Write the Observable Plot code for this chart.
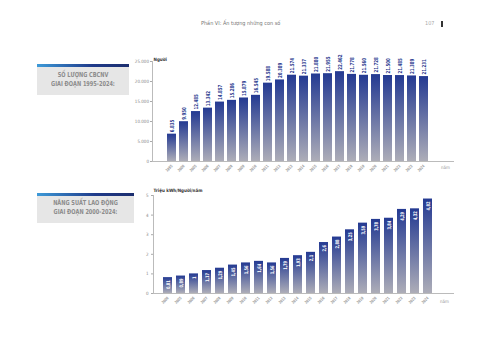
<!DOCTYPE html>
<html><head><meta charset="utf-8">
<script src="https://cdn.jsdelivr.net/npm/d3@7"></script>
<script src="https://cdn.jsdelivr.net/npm/@observablehq/plot@0.6"></script>
<style>
body{margin:0;background:#fff;}
#page{position:relative;width:480px;height:339px;overflow:hidden;background:#fff;font-family:"Liberation Sans Narrow","DejaVu Sans Condensed","Roboto",sans-serif;}
.hdr{position:absolute;font-size:5.5px;color:#777;white-space:nowrap;}
.box{position:absolute;background:#e6e6e6;color:#8c8c8c;font-weight:bold;font-size:6.8px;text-align:center;line-height:8.5px;}
.box .bar{position:absolute;left:0;top:0;right:0;height:3px;background:linear-gradient(to right,#3d9ad8,#1f3a8a 60%,#1c2e6e);}
.box .t{transform:scaleX(0.82);transform-origin:50% 0;white-space:nowrap;}
.chart{position:absolute;}
</style></head><body><div id="page">
<div class="hdr" style="left:201px;top:20px;">Phần VI: Ấn tượng những con số</div>
<div class="hdr" style="left:425px;top:20px;color:#aaa;">107</div>
<div style="position:absolute;left:441px;top:21px;width:2px;height:6px;background:#333;"></div>
<div class="box" style="left:37px;top:64px;width:92px;height:31px;"><div class="bar"></div><div class="t" style="padding-top:7px;">SỐ LƯỢNG CBCNV<br>GIAI ĐOẠN 1995-2024:</div></div>
<div class="box" style="left:37px;top:193px;width:97px;height:30px;"><div class="bar"></div><div class="t" style="padding-top:6px;">NĂNG SUẤT LAO ĐỘNG<br>GIAI ĐOẠN 2000-2024:</div></div>
<div class="chart" id="c1" style="left:110px;top:40px;"></div>
<div class="chart" id="c2" style="left:110px;top:175px;"></div>
</div>
<script>
const years1 = ["1995","2000","2005","2006","2007","2008","2009","2010","2011","2012","2013","2014","2015","2016","2017","2018","2019","2020","2021","2022","2023","2024"];
const staff = [6835,9950,12485,13342,14857,15286,15879,16545,19588,20389,21574,21337,21880,21955,22462,21778,21560,21728,21500,21485,21389,21231];
const staffTicks = [0,5000,10000,15000,20000,25000];

const years2 = ["2000","2005","2006","2007","2008","2009","2010","2011","2012","2013","2014","2015","2016","2017","2018","2019","2020","2021","2022","2023","2024"];
const productivity = [0.81,0.89,1,1.17,1.29,1.45,1.56,1.64,1.56,1.79,1.93,2.1,2.6,2.88,3.25,3.59,3.78,3.84,4.29,4.32,4.82];
const prodTicks = [0,1,2,3,4,5];

const FONT = '"Liberation Sans Narrow","DejaVu Sans Condensed","Roboto",sans-serif';
const fmtK = d3.formatLocale({decimal:",",thousands:".",grouping:[3],currency:["",""]}).format(",d");
const fmtDec = v => String(v).replace(".", ",");

function addGrad(svg, id){
  d3.select(svg).insert("defs", ":first-child").html(
    `<linearGradient id="${id}" x1="0" y1="0" x2="0" y2="1">
      <stop offset="0%" stop-color="#243a92"/>
      <stop offset="100%" stop-color="#adadb8"/>
    </linearGradient>`);
}
function condense(svg){
  d3.select(svg).selectAll("text").each(function(){
    const t = this.getAttribute("transform");
    if (t && /rotate\(/.test(t)) this.setAttribute("transform", t + " scale(0.8,1)");
  });
}

const data1 = years1.map((y,i)=>({year:y, value:staff[i]}));
const p1 = Plot.plot({
  width:360, height:150, marginLeft:42, marginRight:17, marginTop:21, marginBottom:29,
  style:{fontFamily:FONT, fontSize:"4.5px", color:"#888", background:"transparent", overflow:"visible"},
  x:{domain:years1, range:[42,333.5], paddingInner:0.28, paddingOuter:0.8},
  y:{domain:[0,25000]},
  marks:[
    Plot.barY(data1,{x:"year", y:"value", fill:"url(#g1)"}),
    Plot.text(data1,{x:"year", y:"value", text:d=>fmtK(d.value), rotate:-90, textAnchor:"start", dy:-2, fill:"#2b3b8f", fontWeight:"bold", fontSize:5.5}),
    Plot.axisY({ticks:staffTicks, tickFormat:fmtK, tickSize:2, tickPadding:1.5, label:null, fontSize:4.5, stroke:"#aaa"}),
    Plot.axisX({tickRotate:-45, tickSize:0, tickPadding:4, label:null, fontSize:4, fontWeight:"bold", fill:"#999"}),
    Plot.frame({anchor:"left", stroke:"#bbb"}),
    Plot.frame({anchor:"bottom", stroke:"#bbb"}),
    Plot.text(["Người"],{frameAnchor:"top-left", dy:-4, dx:1, textAnchor:"start", fontWeight:"bold", fill:"#333", fontSize:4.5}),
    Plot.text(["năm"],{frameAnchor:"bottom-right", dy:7, dx:-8, textAnchor:"middle", fill:"#999", fontSize:4.5})
  ]
});
addGrad(p1, "g1");
condense(p1);
document.getElementById("c1").appendChild(p1);

const data2 = years2.map((y,i)=>({year:y, value:productivity[i]}));
const p2 = Plot.plot({
  width:360, height:150, marginLeft:43, marginRight:17, marginTop:20, marginBottom:32,
  style:{fontFamily:FONT, fontSize:"4.5px", color:"#888", background:"transparent", overflow:"visible"},
  x:{domain:years2, range:[43,332.6], paddingInner:0.275, paddingOuter:0.69},
  y:{domain:[0,5]},
  marks:[
    Plot.barY(data2,{x:"year", y:"value", fill:"url(#g2)"}),
    Plot.text(data2,{x:"year", y:"value", text:d=>fmtDec(d.value), rotate:-90, textAnchor:"end", dy:2.5, fill:"white", fontWeight:"bold", fontSize:5}),
    Plot.axisY({ticks:prodTicks, tickFormat:d=>String(d), tickSize:2, tickPadding:3, label:null, fontSize:4.5, stroke:"#aaa"}),
    Plot.axisX({tickRotate:-45, tickSize:0, tickPadding:4, label:null, fontSize:4, fontWeight:"bold", fill:"#999"}),
    Plot.frame({anchor:"left", stroke:"#bbb"}),
    Plot.frame({anchor:"bottom", stroke:"#bbb"}),
    Plot.text(["Triệu kWh/Người/năm"],{frameAnchor:"top-left", dy:-7, dx:0, textAnchor:"start", fontWeight:"bold", fill:"#333", fontSize:4.5}),
    Plot.text(["năm"],{frameAnchor:"bottom-right", dy:9, dx:-9, textAnchor:"middle", fill:"#999", fontSize:4.5})
  ]
});
addGrad(p2, "g2");
condense(p2);
document.getElementById("c2").appendChild(p2);
</script>
</body></html>
